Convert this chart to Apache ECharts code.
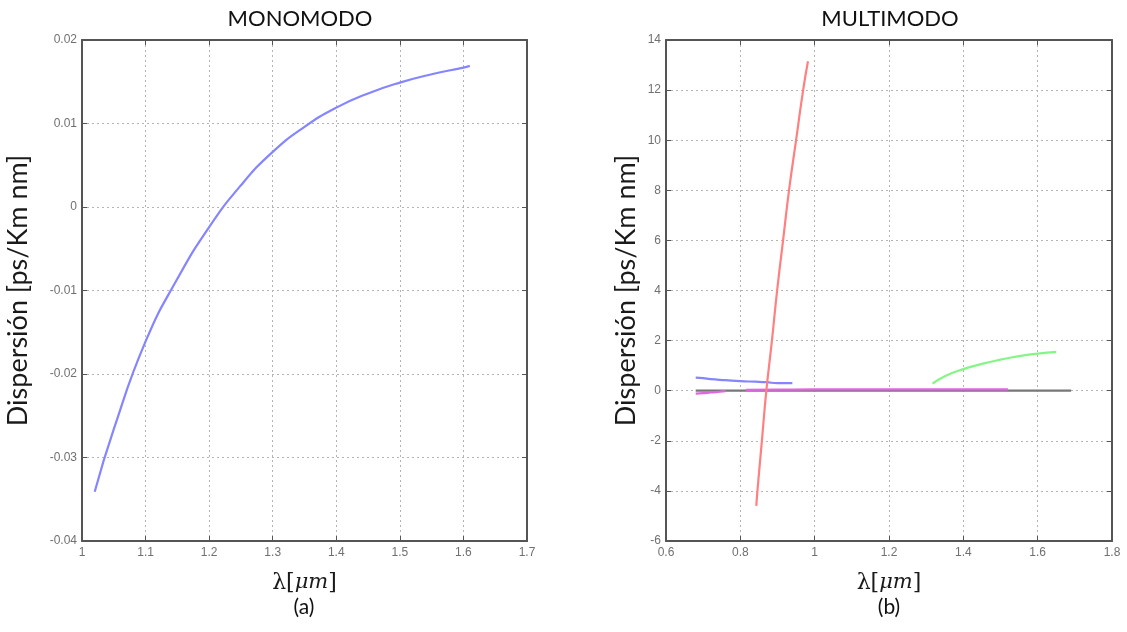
<!DOCTYPE html>
<html>
<head>
<meta charset="utf-8">
<title>Dispersión</title>
<script src="https://cdn.jsdelivr.net/npm/echarts@6/dist/echarts.min.js"></script>
<style>
  html, body { margin: 0; padding: 0; background: #fff; }
  #chart { width: 1127px; height: 632px; }
</style>
</head>
<body>
<div id="chart"></div>
<script>
// (a) Monomodo: dispersion vs wavelength
const monoLambda = [1.02, 1.05, 1.10, 1.15, 1.20, 1.25, 1.30, 1.35, 1.40, 1.45, 1.50, 1.55, 1.60, 1.61];
const monoDisp   = [-0.0341, -0.0266, -0.0161, -0.0086, -0.0024, 0.0026, 0.0066, 0.0096, 0.0119, 0.0136, 0.0149, 0.0159, 0.0167, 0.0169];

// (b) Multimodo: several modal curves
const redLambda = [0.843, 0.846, 0.858, 0.870, 0.885, 0.899, 0.915, 0.931, 0.950, 0.969, 0.982];
const redDisp   = [-4.6, -4.0, -2.0, 0.0, 2.0, 4.0, 6.0, 8.0, 10.0, 12.0, 13.15];

const blueLambda = [0.68, 0.70, 0.72, 0.76, 0.80, 0.84, 0.87, 0.90, 0.94];
const blueDisp   = [0.52, 0.50, 0.46, 0.42, 0.38, 0.36, 0.34, 0.30, 0.30];

const greenLambda = [1.317, 1.35, 1.40, 1.45, 1.50, 1.55, 1.60, 1.65];
const greenDisp   = [0.28, 0.58, 0.86, 1.07, 1.24, 1.38, 1.48, 1.55];

const magentaLambda = [0.68, 0.70, 0.72, 0.745, 0.76, null, 0.815, 0.9, 1.0, 1.1, 1.2, 1.3, 1.4, 1.52];
const magentaDisp   = [-0.12, -0.10, -0.07, -0.04, -0.02, null, 0.03, 0.04, 0.05, 0.05, 0.05, 0.05, 0.05, 0.05];

const grayLambda = [0.68, 1.69];
const grayDisp   = [0, 0];

const panelTitles = ['MONOMODO', 'MULTIMODO'];
const panelTags = ['(a)', '(b)'];
const yName = 'Dispersión [ps/Km nm]';

function pairs(xs, ys) {
  return xs.map((x, i) => (x === null ? [null, null] : [x, ys[i]]));
}

const chart = echarts.init(document.getElementById('chart'));

const tickFont = { color: '#707070', fontSize: 12, fontFamily: 'Liberation Sans, Arial, sans-serif' };
const frameLine = { show: true, onZero: false, lineStyle: { color: '#555555', width: 2 } };
const gridLine = { show: true, lineStyle: { color: '#b4b4b4', width: 1, type: [2, 3] } };
const inTick = { show: true, inside: true, length: 5, lineStyle: { color: '#555555', width: 1 } };
const nameStyle = { color: '#1a1a1a', fontSize: 27, fontFamily: 'Lato, "Open Sans", sans-serif' };
const lambdaName = '{n|λ[}{i|μm}{n|]}';
const lambdaRich = {
  n: { color: '#1a1a1a', fontSize: 22, fontFamily: '"DejaVu Serif", serif' },
  i: { color: '#1a1a1a', fontSize: 21, fontStyle: 'italic', fontFamily: '"DejaVu Serif", serif' }
};

function bottomX(grid, min, max, interval) {
  return {
    type: 'value', gridIndex: grid, position: 'bottom', min, max, interval,
    axisLine: frameLine, axisTick: inTick, splitLine: gridLine,
    axisLabel: Object.assign({ margin: 6 }, tickFont),
    name: lambdaName, nameLocation: 'middle', nameGap: 31,
    nameTextStyle: { rich: lambdaRich }
  };
}
function topX(grid, min, max, interval) {
  return {
    type: 'value', gridIndex: grid, position: 'top', min, max, interval,
    axisLine: frameLine, axisTick: inTick, splitLine: { show: false }, axisLabel: { show: false }
  };
}
function leftY(grid, min, max, interval, gap) {
  return {
    type: 'value', gridIndex: grid, position: 'left', min, max, interval,
    axisLine: frameLine, axisTick: inTick, splitLine: gridLine,
    axisLabel: Object.assign({ margin: 5 }, tickFont),
    name: yName, nameLocation: 'middle', nameRotate: 90, nameGap: gap,
    nameTextStyle: nameStyle
  };
}
function rightY(grid, min, max, interval) {
  return {
    type: 'value', gridIndex: grid, position: 'right', min, max, interval,
    axisLine: frameLine, axisTick: inTick, splitLine: { show: false }, axisLabel: { show: false }
  };
}

function curve(name, xs, ys, color, xi, yi) {
  return {
    name, type: 'line', xAxisIndex: xi, yAxisIndex: yi,
    data: pairs(xs, ys), smooth: true,
    showSymbol: false, connectNulls: false,
    lineStyle: { color, width: 2.2 }, itemStyle: { color }, silent: true
  };
}

const option = {
  animation: false,
  backgroundColor: '#ffffff',
  grid: [
    { left: 82, top: 40, width: 445, height: 501 },
    { left: 666, top: 40, width: 446, height: 501 }
  ],
  xAxis: [
    bottomX(0, 1, 1.7, 0.1),
    topX(0, 1, 1.7, 0.1),
    bottomX(1, 0.6, 1.8, 0.2),
    topX(1, 0.6, 1.8, 0.2)
  ],
  yAxis: [
    leftY(0, -0.04, 0.02, 0.01, 50),
    rightY(0, -0.04, 0.02, 0.01),
    leftY(1, -6, 14, 2, 26),
    rightY(1, -6, 14, 2)
  ],
  series: [
    curve('mono', monoLambda, monoDisp, '#8585ff', 0, 0),
    curve('cero', grayLambda, grayDisp, '#777777', 2, 2),
    curve('magenta', magentaLambda, magentaDisp, '#e066e0', 2, 2),
    curve('azul', blueLambda, blueDisp, '#8585ff', 2, 2),
    curve('verde', greenLambda, greenDisp, '#85f585', 2, 2),
    curve('rojo', redLambda, redDisp, '#ff8080', 2, 2)
  ],
  graphic: [
    { type: 'text', x: 300, y: 19, style: { text: panelTitles[0], fill: '#111', font: '22px Lato, "Open Sans", sans-serif', align: 'center', verticalAlign: 'middle' } },
    { type: 'text', x: 890, y: 19, style: { text: panelTitles[1], fill: '#111', font: '22px Lato, "Open Sans", sans-serif', align: 'center', verticalAlign: 'middle' } },
    { type: 'text', x: 304, y: 607, style: { text: panelTags[0], fill: '#111', font: '21px Lato, "Open Sans", sans-serif', align: 'center', verticalAlign: 'middle' } },
    { type: 'text', x: 889, y: 607, style: { text: panelTags[1], fill: '#111', font: '21px Lato, "Open Sans", sans-serif', align: 'center', verticalAlign: 'middle' } }
  ]
};

chart.setOption(option);
</script>
</body>
</html>
